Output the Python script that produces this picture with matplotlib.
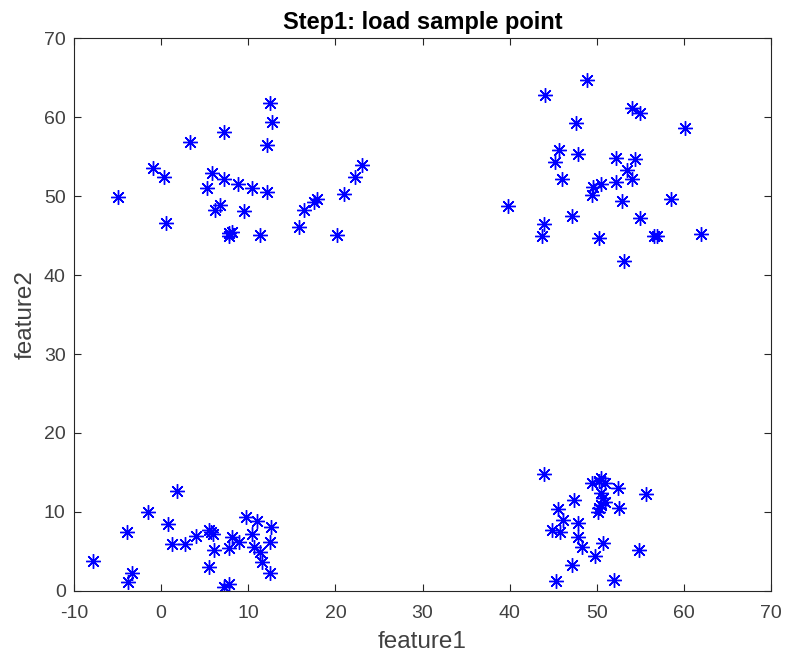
"""Step1 scatter: four clusters of sample points."""

import matplotlib
matplotlib.use("Agg")
import matplotlib.pyplot as plt

AXIS_COLOR = "#262626"
LABEL_COLOR = "#404040"

# --- sample points ---
feature1 = [
    # top-left cluster
    -5.0, -0.95, 0.36, 0.59, 3.27, 7.26, 5.88, 7.18, 5.27, 8.79, 10.48, 12.17,
    6.8, 6.19, 9.56, 7.8, 8.1, 7.8, 11.4, 12.47, 12.67, 12.1, 15.86, 16.4,
    17.5, 17.9, 20.2, 21.0, 22.3, 23.0,
    # top-right cluster
    48.88, 44.0, 54.06, 55.0, 60.1, 47.57, 45.7, 45.2, 47.8, 52.2, 54.4, 53.5,
    54.0, 46.0, 52.2, 50.5, 49.6, 49.4, 52.9, 58.5, 39.8, 47.2, 55.0, 43.9,
    43.7, 50.3, 56.6, 56.9, 62.0, 53.1,
    # bottom-left cluster
    -7.78, -3.94, -3.36, -3.75, -1.5, 1.82, 0.74, 1.24, 2.7, 4.04, 5.45, 5.73,
    6.0, 5.45, 6.03, 7.26, 7.76, 8.14, 7.76, 8.9, 9.75, 11.0, 10.45, 10.6,
    11.4, 11.6, 12.6, 12.47, 12.47,
    # bottom-right cluster
    43.9, 50.5, 50.3, 50.9, 49.4, 52.4, 55.7, 50.5, 50.7, 47.4, 50.5, 50.9,
    52.6, 50.1, 50.3, 45.5, 46.1, 44.85, 45.8, 47.9, 47.9, 48.35, 50.7, 49.76,
    54.9, 47.2, 45.35, 52.0,
]
feature2 = [
    # top-left cluster
    49.9, 53.6, 52.4, 46.6, 56.9, 58.1, 53.0, 52.2, 51.0, 51.6, 51.0, 50.5,
    48.9, 48.3, 48.1, 45.4, 45.5, 45.0, 45.1, 61.8, 59.4, 56.5, 46.1, 48.3,
    49.3, 49.6, 45.1, 50.3, 52.4, 53.9,
    # top-right cluster
    64.7, 62.8, 61.2, 60.5, 58.7, 59.3, 55.8, 54.4, 55.4, 54.9, 54.7, 53.3,
    52.2, 52.2, 51.8, 51.6, 51.2, 50.1, 49.4, 49.6, 48.8, 47.5, 47.3, 46.5,
    44.9, 44.7, 44.95, 45.0, 45.2, 41.8,
    # bottom-left cluster
    3.75, 7.4, 2.2, 1.1, 9.95, 12.6, 8.5, 5.9, 5.9, 6.9, 7.7, 7.5,
    7.15, 3.03, 5.15, 0.48, 0.9, 6.85, 5.4, 6.2, 9.4, 8.9, 7.15, 5.6,
    4.9, 3.6, 8.1, 6.2, 2.2,
    # bottom-right cluster
    14.8, 14.3, 13.85, 13.7, 13.6, 13.0, 12.2, 12.4, 11.7, 11.5, 10.9, 11.3,
    10.5, 10.0, 10.5, 10.3, 9.0, 7.7, 7.5, 8.55, 6.85, 5.6, 6.0, 4.4,
    5.2, 3.3, 1.25, 1.4,
]

x_ticks = list(range(-10, 71, 10))
y_ticks = list(range(0, 71, 10))

plt.rcParams["font.family"] = ["Liberation Sans", "DejaVu Sans"]
plt.rcParams["axes.unicode_minus"] = False

fig = plt.figure(figsize=(7.85, 6.59), dpi=100)
ax = fig.add_axes([0.0943, 0.1036, 0.8879, 0.8381])

ax.plot(feature1, feature2, linestyle="none", marker=(8, 2, 0),
        markersize=10.5, markeredgewidth=1.0, color="#0000FF")

ax.set_xlim(-10, 70)
ax.set_ylim(0, 70)
ax.set_xticks(x_ticks)
ax.set_yticks(y_ticks)
ax.tick_params(direction="in", length=5, width=0.8, colors=AXIS_COLOR,
               labelsize=14, top=True, right=True)
ax.tick_params(axis="x", pad=10)
ax.tick_params(axis="y", pad=6)
for label in ax.get_xticklabels() + ax.get_yticklabels():
    label.set_color(LABEL_COLOR)
for spine in ax.spines.values():
    spine.set_color(AXIS_COLOR)
    spine.set_linewidth(0.8)

ax.set_xlabel("feature1", fontsize=17.5, color=LABEL_COLOR, labelpad=7)
ax.set_ylabel("feature2", fontsize=17.5, color=LABEL_COLOR, labelpad=5)
ax.set_title("Step1: load sample point", fontsize=17, fontweight="bold",
             color="#000000", pad=7)

fig.savefig("out.png", dpi=100, facecolor="white")
